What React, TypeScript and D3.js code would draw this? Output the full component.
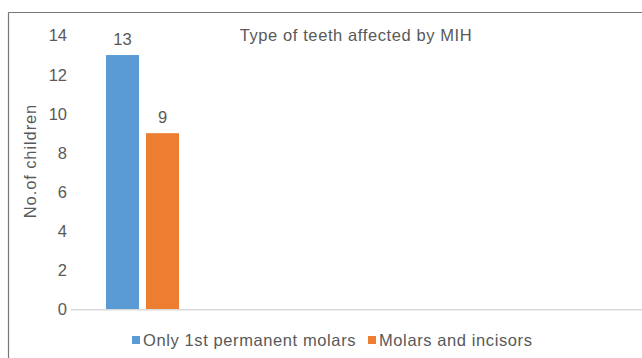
import React from "react";
import * as d3 from "d3";

const categories = ["Type of teeth affected by MIH"];
const seriesNames = ["Only 1st permanent molars", "Molars and incisors"];
const seriesValues = [[13], [9]];
const yTicks = [0, 2, 4, 6, 8, 10, 12, 14];
const colors = ["#5B9BD5", "#ED7D31"];

const width = 642;
const height = 358;
const margin = { top: 35.5, bottom: 49, left: 71 };
const font = "'Liberation Sans', Arial, sans-serif";
const textColor = "#595959";
const fs = 16.5;
const ls = 0.6;

export default function App() {
  const y = d3
    .scaleLinear()
    .domain([0, 14])
    .range([height - margin.bottom, margin.top]);

  const x = d3
    .scaleBand()
    .domain(categories)
    .range([margin.left, margin.left + 143])
    .paddingInner(0)
    .paddingOuter(0);

  const xSeries = d3
    .scaleBand()
    .domain(seriesNames)
    .range([35, x.bandwidth() - 35])
    .paddingInner(0.175)
    .paddingOuter(0);

  const baseY = y(0);

  return (
    <div style={{ position: "absolute", left: 0, top: 0 }}>
      <svg width={width} height={height} style={{ display: "block", fontFamily: font }}>
        <rect width={width} height={height} fill="#fff" />
        {/* chart frame */}
        <line x1={8.5} x2={8.5} y1={12.5} y2={height} stroke="#767676" strokeWidth={1.2} />
        <line x1={8.5} x2={width} y1={12.5} y2={12.5} stroke="#767676" strokeWidth={1.2} />

        <text x={356} y={41} textAnchor="middle" fontSize={fs} letterSpacing={ls} fill={textColor}>
          Type of teeth affected by MIH
        </text>

        {yTicks.map((t) => (
          <text
            key={t}
            x={67}
            y={y(t)}
            dy="0.36em"
            textAnchor="end"
            fontSize={fs}
            fill={textColor}
          >
            {t}
          </text>
        ))}

        <text
          transform={`translate(36, ${161}) rotate(-90)`}
          textAnchor="middle"
          fontSize={fs}
          letterSpacing={0.9}
          fill={textColor}
        >
          No.of children
        </text>

        {categories.map((c, ci) =>
          seriesNames.map((s, si) => {
            const v = seriesValues[si][ci];
            const bx = (x(c) as number) + (xSeries(s) as number);
            return (
              <g key={c + s}>
                <rect
                  x={bx}
                  y={y(v)}
                  width={xSeries.bandwidth()}
                  height={baseY - y(v)}
                  fill={colors[si]}
                />
                <text
                  x={bx + xSeries.bandwidth() / 2}
                  y={y(v) - 10}
                  textAnchor="middle"
                  fontSize={fs}
                  fill={textColor}
                >
                  {v}
                </text>
              </g>
            );
          })
        )}

        <line x1={margin.left} x2={width} y1={baseY + 0.75} y2={baseY + 0.75} stroke="#d9d9d9" strokeWidth={1.5} />

        {/* legend */}
        <g>
          <rect x={132} y={336} width={8} height={8} fill={colors[0]} />
          <text x={143} y={346} fontSize={fs} letterSpacing={ls} fill={textColor}>
            {seriesNames[0]}
          </text>
          <rect x={368} y={336} width={8} height={8} fill={colors[1]} />
          <text x={379} y={346} fontSize={fs} letterSpacing={ls} fill={textColor}>
            {seriesNames[1]}
          </text>
        </g>
      </svg>
    </div>
  );
}
